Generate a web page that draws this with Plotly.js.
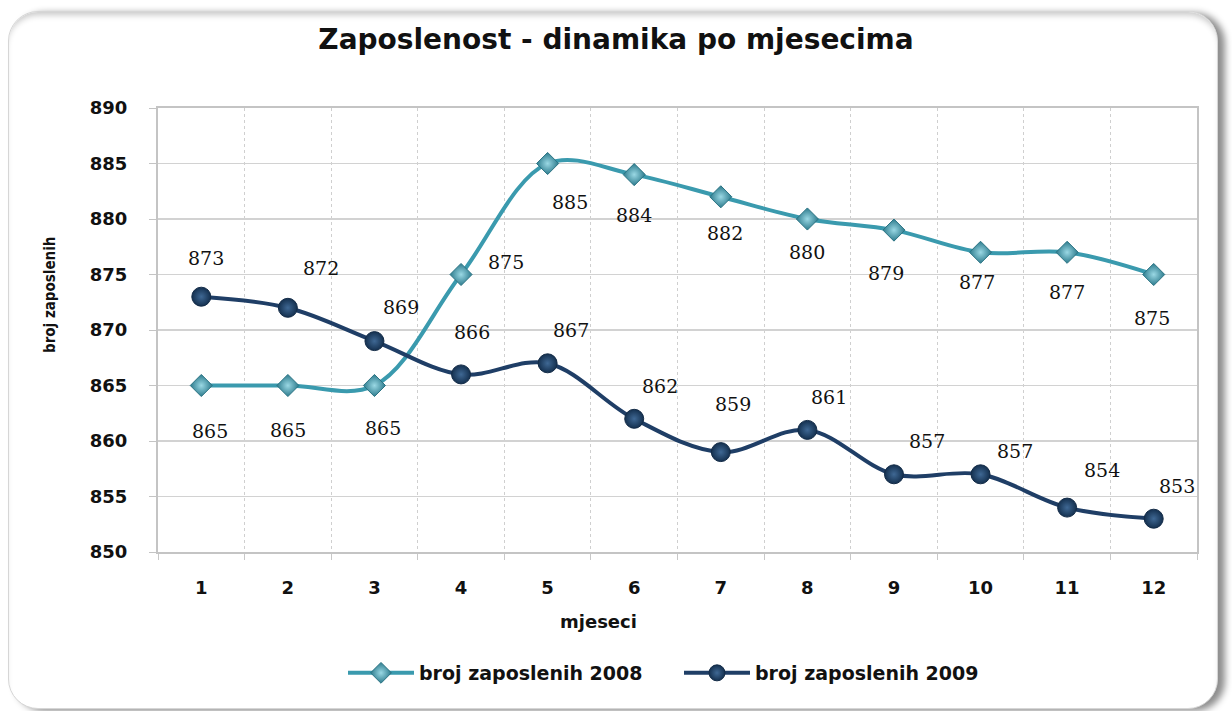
<!DOCTYPE html>
<html>
<head>
<meta charset="utf-8">
<script src="https://cdn.plot.ly/plotly-3.0.1.min.js"></script>
<style>
  html, body { margin: 0; padding: 0; background: #ffffff; }
  #frame {
    position: absolute; left: 8px; top: 11px; width: 1208px; height: 696px;
    border-radius: 30px; background: #ffffff;
    border: 1px solid #d6d6d6;
    box-shadow: 7px 2px 7px rgba(0,0,0,0.45), inset 0 6px 6px -3px rgba(0,0,0,0.22);
  }
  #chart { position: absolute; left: 0; top: 0; width: 1232px; height: 711px; }
</style>
</head>
<body>
<div id="frame"></div>
<div id="chart"></div>
<script>
// ---- data ----
const months = [1, 2, 3, 4, 5, 6, 7, 8, 9, 10, 11, 12];
const emp2008 = [865, 865, 865, 875, 885, 884, 882, 880, 879, 877, 877, 875];
const emp2009 = [873, 872, 869, 866, 867, 862, 859, 861, 857, 857, 854, 853];
const seriesNames = ['broj zaposlenih 2008', 'broj zaposlenih 2009'];
const yTicks = [850, 855, 860, 865, 870, 875, 880, 885, 890];

// ---- label offsets (style, pixels) ----
const shift2008x = [9, 0, 9, 45, 22, 0, 4, 0, -8, -4, 0, -2];
const shift2008y = [-45, -44, -42, 13, -38, -40, -36, -33, -43, -30, -40, -43];
const shift2009x = [5, 33, 27, 11, 23, 26, 12, 22, 33, 34, 35, 23];
const shift2009y = [39, 40, 34, 42, 33, 33, 48, 33, 33, 23, 38, 33];

const c2008 = '#3a9aae';
const c2009 = '#1f3e66';

const traces = [
  {
    x: months, y: emp2008, name: seriesNames[0], type: 'scatter', mode: 'lines+markers',
    line: { color: c2008, width: 4, shape: 'spline', smoothing: 1 },
    marker: { symbol: 'diamond', size: 17, color: '#2c7a8c',
              gradient: { type: 'radial', color: '#9ad8e4' },
              line: { color: '#2a7383', width: 1 } },
    hoverinfo: 'x+y'
  },
  {
    x: months, y: emp2009, name: seriesNames[1], type: 'scatter', mode: 'lines+markers',
    line: { color: c2009, width: 4, shape: 'spline', smoothing: 1 },
    marker: { symbol: 'circle', size: 19, color: '#14304f',
              gradient: { type: 'radial', color: '#3f6894' },
              line: { color: '#132b47', width: 1 } },
    hoverinfo: 'x+y'
  }
];

const labelFont = { family: 'DejaVu Serif, Liberation Serif, serif', size: 19, color: '#111111' };
const annotations = [];
months.forEach((m, i) => {
  annotations.push({ x: m, y: emp2008[i], xref: 'x', yref: 'y', text: String(emp2008[i]),
    showarrow: false, xshift: shift2008x[i], yshift: shift2008y[i], font: labelFont });
  annotations.push({ x: m, y: emp2009[i], xref: 'x', yref: 'y', text: String(emp2009[i]),
    showarrow: false, xshift: shift2009x[i], yshift: shift2009y[i], font: labelFont });
});
// axis titles
annotations.push({ text: 'mjeseci', xref: 'paper', yref: 'paper', x: (598 - 158) / (1197 - 158), y: -(621 - 552) / 444,
  showarrow: false, xanchor: 'center', yanchor: 'middle',
  font: { family: 'DejaVu Sans, sans-serif', size: 18, weight: 'bold', color: '#111' } });
annotations.push({ text: 'broj zaposlenih', xref: 'paper', yref: 'paper', x: -(158 - 50) / (1197 - 158), y: (552 - 295) / 444,
  showarrow: false, xanchor: 'center', yanchor: 'middle', textangle: -90,
  font: { family: 'DejaVu Sans Condensed, DejaVu Sans, sans-serif', size: 15, weight: 'bold', color: '#111' } });

const tickFont = { family: 'DejaVu Sans, sans-serif', size: 18, weight: 'bold', color: '#111111' };

const layout = {
  width: 1232, height: 711,
  paper_bgcolor: 'rgba(0,0,0,0)', plot_bgcolor: '#ffffff',
  margin: { l: 158, r: 35, t: 108, b: 159 },
  title: { text: 'Zaposlenost - dinamika po mjesecima', x: 0.5, xanchor: 'center',
           y: 1 - 39 / 711, yref: 'container', yanchor: 'middle',
           font: { family: 'DejaVu Sans, sans-serif', size: 28, weight: 'bold', color: '#111' } },
  showlegend: true,
  legend: { orientation: 'h', x: (343 - 158) / (1197 - 158), xanchor: 'left', y: -(673 - 552) / 444, yanchor: 'middle',
            font: { family: 'DejaVu Sans, sans-serif', size: 19, weight: 'bold', color: '#111' },
            itemwidth: 66, entrywidth: 255, tracegroupgap: 0, bgcolor: 'rgba(0,0,0,0)' },
  xaxis: {
    range: [0.5, 12.5], tickmode: 'array', tickvals: months, ticktext: months.map(String),
    showgrid: false, zeroline: false, ticks: '', tickfont: tickFont, ticklabelstandoff: 18,
    showline: true, mirror: true, linecolor: '#c4c4c4', linewidth: 2,
    minor: { tick0: 0.5, dtick: 1, showgrid: true, griddash: '3px,3px', gridcolor: '#cfcfcf', gridwidth: 1,
             ticks: 'outside', ticklen: 6, tickcolor: '#c8c8c8' },
    fixedrange: true
  },
  yaxis: {
    range: [850, 890], tickmode: 'array', tickvals: yTicks, ticktext: yTicks.map(String),
    showgrid: true, gridcolor: '#d2d2d2', gridwidth: 1.5, zeroline: false,
    ticks: 'outside', ticklen: 7, tickcolor: '#c4c4c4', tickfont: tickFont, ticklabelstandoff: 18,
    showline: true, mirror: true, linecolor: '#c4c4c4', linewidth: 2,
    fixedrange: true
  },
  annotations: annotations
};

Plotly.newPlot('chart', traces, layout, { displayModeBar: false, staticPlot: true });
</script>
</body>
</html>
